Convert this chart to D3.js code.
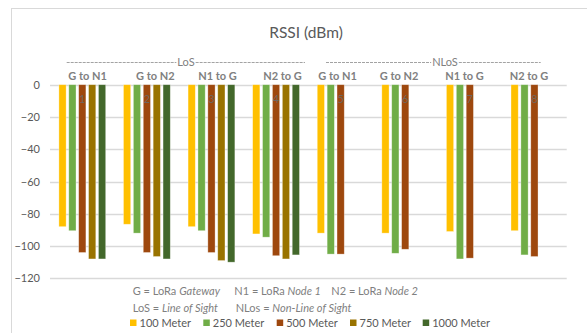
<!DOCTYPE html>
<html>
<head>
<meta charset="utf-8">
<script src="https://cdn.jsdelivr.net/npm/d3@7"></script>
<style>
  html, body { margin: 0; padding: 0; background: #fff; }
  svg { display: block; font-family: Lato, "Open Sans", sans-serif; }
</style>
</head>
<body>
<svg id="chart" width="587" height="333"></svg>
<script>
// ---- data ----
const categories = ["1", "2", "3", "4", "5", "6", "7", "8"];
const pathLabels = ["G to N1", "G to N2", "N1 to G", "N2 to G", "G to N1", "G to N2", "N1 to G", "N2 to G"];
const seriesNames = ["100 Meter", "250 Meter", "500 Meter", "750 Meter", "1000 Meter"];
const s100  = [-88, -86.5, -88, -92.5, -92, -92, -91, -90.5];
const s250  = [-90.5, -92, -90.5, -94.5, -105, -104.5, -108, -105.5];
const s500  = [-104, -104, -104, -106, -105, -102, -107.5, -106.5];
const s750  = [-108, -106.5, -109, -108, null, null, null, null];
const s1000 = [-108, -108, -110, -105.5, null, null, null, null];
const yTicks = [0, -20, -40, -60, -80, -100, -120];
const groupNames = ["LoS", "NLoS"];
const title = "RSSI (dBm)";

const seriesValues = [s100, s250, s500, s750, s1000];
const colors = ["#FFC000", "#70AD47", "#9E480E", "#997300", "#43682B"];

const svg = d3.select("#chart");

// outer chart border
svg.append("rect")
  .attr("x", 11.5).attr("y", 8.5)
  .attr("width", 600).attr("height", 340)
  .attr("fill", "none").attr("stroke", "#d9d9d9").attr("stroke-width", 1);

// title
svg.append("text")
  .attr("x", 306).attr("y", 38)
  .attr("text-anchor", "middle")
  .attr("font-size", 15.5)
  .attr("fill", "#595959")
  .text(title);

// scales
const x = d3.scaleBand().domain(categories).range([50, 566.7]).padding(0);
const bw = x.bandwidth();
const xs = d3.scaleBand().domain(seriesNames)
  .range([bw / 2 - 23.4, bw / 2 + 23.4])
  .paddingInner(0.27).paddingOuter(0);
const y = d3.scaleLinear().domain([-120, 0]).range([278.3, 84.7]);

// gridlines
svg.append("g").selectAll("line").data(yTicks).join("line")
  .attr("x1", 50).attr("x2", 566.7)
  .attr("y1", d => Math.round(y(d)) + 0.5).attr("y2", d => Math.round(y(d)) + 0.5)
  .attr("stroke", "#d9d9d9").attr("stroke-width", 1.3);

// y axis labels
const yAxis = d3.axisLeft(y).tickValues(yTicks).tickSize(0).tickPadding(0)
  .tickFormat(d3.format("d"));
const ya = svg.append("g").attr("transform", "translate(40,0)").call(yAxis);
ya.select(".domain").remove();
ya.selectAll("text")
  .attr("font-family", "Lato, 'Open Sans', sans-serif")
  .attr("font-size", 11).attr("fill", "#595959");

// bars
const barData = [];
categories.forEach((c, i) => {
  seriesNames.forEach((s, j) => {
    const v = seriesValues[j][i];
    if (v !== null && v !== undefined) barData.push({ c, s, v, j });
  });
});
svg.append("g").selectAll("rect").data(barData).join("rect")
  .attr("x", d => x(d.c) + xs(d.s))
  .attr("y", d => y(0))
  .attr("width", xs.bandwidth())
  .attr("height", d => y(d.v) - y(0))
  .attr("fill", d => colors[d.j])
  .attr("stroke", "#ffffff").attr("stroke-opacity", 0.45).attr("stroke-width", 0.7);

// category numbers (drawn over bars)
svg.append("g").selectAll("text").data(categories).join("text")
  .attr("x", d => x(d) + bw / 2)
  .attr("y", 102.5)
  .attr("text-anchor", "middle")
  .attr("font-size", 11)
  .attr("fill", "#6b6b6b").attr("fill-opacity", 0.9)
  .text(d => d);

// path labels above plot
const labelCenters = [87.5, 155.3, 217.5, 282.5, 337.5, 399, 464.5, 529];
svg.append("g").selectAll("text").data(pathLabels).join("text")
  .attr("x", (d, i) => labelCenters[i])
  .attr("y", 79.5)
  .attr("text-anchor", "middle")
  .attr("font-size", 11).attr("font-weight", "bold")
  .attr("fill", "#808080")
  .text(d => d);

// LoS / NLoS dashed group headers
const groupSpans = [[66.7, 305, 186], [326, 540.7, 445]];
groupNames.forEach((g, i) => {
  const [a, b, c] = groupSpans[i];
  const t = svg.append("text")
    .attr("x", c).attr("y", 66)
    .attr("text-anchor", "middle")
    .attr("font-size", 11).attr("fill", "#808080")
    .text(g);
  const w = t.node().getComputedTextLength();
  [[a, c - w / 2 - 1], [c + w / 2 + 1, b]].forEach(([x1, x2]) => {
    svg.append("line")
      .attr("x1", x1).attr("x2", x2)
      .attr("y1", 62.5).attr("y2", 62.5)
      .attr("stroke", "#8c8c8c").attr("stroke-width", 0.8)
      .attr("stroke-dasharray", "3,1");
  });
});

// explanatory lines
function richText(xp, yp, parts) {
  const t = svg.append("text").attr("x", xp).attr("y", yp)
    .attr("font-size", 11).attr("fill", "#7f7f7f");
  parts.forEach(p => {
    t.append("tspan").attr("font-style", p[1] ? "italic" : "normal").text(p[0]);
  });
}
richText(132.7, 295, [["G = LoRa ", false], ["Gateway", true]]);
richText(234.3, 295, [["N1 = LoRa ", false], ["Node 1", true]]);
richText(331.3, 295, [["N2 = LoRa ", false], ["Node 2", true]]);
richText(132.7, 311.5, [["LoS = ", false], ["Line of Sight", true]]);
richText(235.7, 311.5, [["NLos = ", false], ["Non-Line of Sight", true]]);

// legend
const legendX = [130, 203.3, 276.7, 350, 422.7];
const lg = svg.append("g").selectAll("g").data(seriesNames).join("g")
  .attr("transform", (d, i) => `translate(${legendX[i]},0)`);
lg.append("rect").attr("x", 0).attr("y", 319.5).attr("width", 6.5).attr("height", 6.5)
  .attr("fill", (d, i) => colors[i]);
lg.append("text").attr("x", 9.5).attr("y", 327)
  .attr("font-size", 11).attr("fill", "#595959")
  .text(d => d);
</script>
</body>
</html>
